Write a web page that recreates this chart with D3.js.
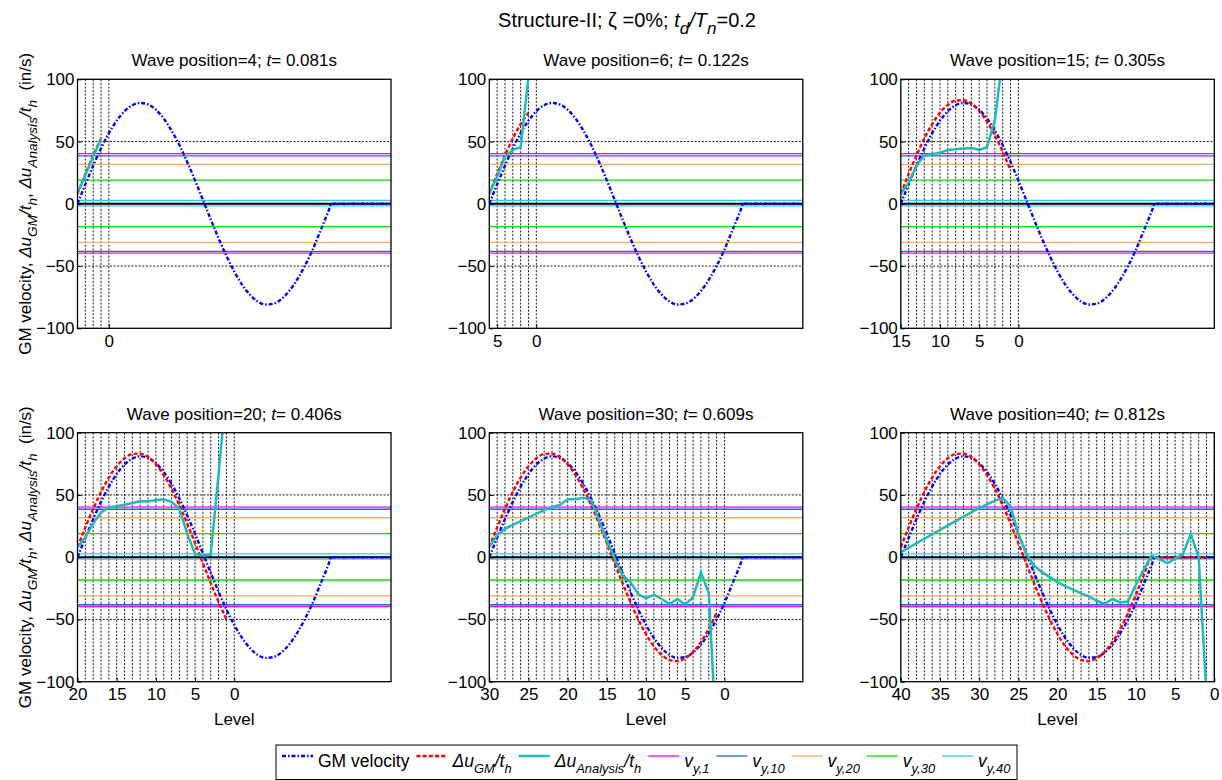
<!DOCTYPE html>
<html>
<head>
<meta charset="utf-8">
<script src="https://cdn.jsdelivr.net/npm/d3@7"></script>
<style>
  body { margin: 0; background: #fff; }
  svg { font-family: "Liberation Sans", Arial, sans-serif; }
</style>
</head>
<body>
<script>
// ---- data ----
const WAVE_POSITIONS = [4, 6, 15, 20, 30, 40];
const WAVE_TIMES = ["0.081", "0.122", "0.305", "0.406", "0.609", "0.812"];

// GM velocity vs. offset (levels behind the wave front)
const GM_OFFSET = [0, 1, 2, 3, 4, 5, 6, 7, 8, 9, 10, 11, 12, 13, 14, 15, 16, 17, 18, 19, 20,
  21, 22, 23, 24, 25, 26, 27, 28, 29, 30, 31, 32, 32.4, 33, 34, 35, 36, 37, 38, 39, 40];
const GM_VELOCITY = [0, 15.6, 30.6, 44.5, 56.7, 66.8, 74.4, 79.2, 81.0, 79.8, 75.6, 68.5, 58.9,
  47.2, 33.6, 18.8, 3.1, -12.5, -27.7, -41.8, -54.4, -64.9, -73.0, -78.5, -80.9, -80.2, -76.6,
  -70.1, -61.1, -49.9, -36.8, -21.6, -6.3, 0, 0, 0, 0, 0, 0, 0, 0, 0];

// du_GM / t_h at offsets 0..40
const GM_DIFF = [8.1, 23.9, 38.9, 52.4, 64.0, 73.1, 79.5, 82.9, 83.2, 80.4, 74.6, 66.0, 54.9,
  41.8, 27.0, 11.3, -4.9, -20.8, -35.9, -49.8, -61.8, -71.7, -78.5, -82.5, -83.5, -81.2, -76.1,
  -68.1, -57.5, -44.7, -30.2, -14.4, 0, 0, 0, 0, 0, 0, 0, 0, 0];

// du_Analysis / t_h, from level = wave position down to level 1
const ANALYSIS_4 = [8.6, 23, 38, 52];
const ANALYSIS_6 = [8, 22, 38, 43.3, 45.5, 102];
const ANALYSIS_15 = [8, 17, 30.5, 38.8, 39.8, 41, 43.3, 43.9, 44.4, 44.9, 43.3, 45.5, 67, 118, 170];
const ANALYSIS_20 = [8, 16, 27, 36, 39.8, 40.9, 42.2, 43.5, 45, 45, 45.7, 46.5, 44.4, 39, 18.8,
  2.7, 1.3, 2, 67, 135];
const ANALYSIS_30 = [8.6, 17.5, 22.8, 26, 29, 31.7, 35, 37.6, 40.3, 42,
  46.5, 46.5, 47.8, 45.7, 29.6, 13.4, -1.3, -14.8, -20, -29.6,
  -33, -30, -33.6, -37.6, -33.6, -38, -32, -12, -29, -150];
const ANALYSIS_40 = [4, 7.6, 11.2, 14.8, 18.4, 22, 25.5, 29, 32.5, 36,
  39.5, 42.5, 45.5, 47.5, 41, 19, 2.7, -6.7, -12, -16,
  -20, -23.4, -26, -29, -31.5, -35, -37.6, -33.6, -36.3, -35.5,
  -22, -10, 1.3, -1.3, -4.8, -1.3, 2.7, 18.8, 0, -110];
const ANALYSIS_SERIES = [ANALYSIS_4, ANALYSIS_6, ANALYSIS_15, ANALYSIS_20, ANALYSIS_30, ANALYSIS_40];

// yield velocities (in/s)
const YIELD_LABELS = ["y,1", "y,10", "y,20", "y,30", "y,40"];
const YIELD_POS = [40.3, 38.5, 31.7, 19.0, 2.7];
const YIELD_NEG = [-39.6, -38.2, -31.0, -18.3, -1.6];
const YIELD_COLORS = ["#ff00ff", "#1f70b4", "#ffaa66", "#00e000", "#3cc4ff"];

const Y_TICKS = [-100, -50, 0, 50, 100];

// ---- layout ----
const width = 1222,
  height = 780;
const plotW = 313.5,
  plotH = 249;
const colX = [77.5, 489.3, 900.8];
const rowY = [79.3, 432.7];
const BLUE = "#0000ff",
  RED = "#ff0000",
  CYAN = "#1fbaba";

const svg = d3
  .select("body")
  .append("svg")
  .attr("width", width)
  .attr("height", height);

// text with italic / subscript pieces: [text, italic, sub]
function richText(sel, parts, size, subRatio = 0.74) {
  let prevSub = false;
  parts.forEach(p => {
    const t = sel.append("tspan").text(p[0]);
    if (p[1]) t.attr("font-style", "italic");
    if (p[2]) {
      t.attr("font-size", size * subRatio);
      if (!prevSub) t.attr("dy", size * 0.36);
    } else if (prevSub) t.attr("dy", -size * 0.36);
    prevSub = !!p[2];
  });
  return sel;
}

richText(
  svg
    .append("text")
    .attr("x", 627)
    .attr("y", 27)
    .attr("text-anchor", "middle")
    .attr("font-size", 20),
  [["Structure-II; \u03B6 =0%; "], ["t", 1], ["d", 1, 1], ["/", 1], ["T", 1], ["n", 1, 1], ["=0.2"]],
  20,
  0.85
);

const yLabelParts = [
  ["GM velocity, "], ["\u0394u", 1], ["GM", 1, 1], ["/t", 1], ["h", 1, 1], [", "],
  ["\u0394u", 1], ["Analysis", 1, 1], ["/t", 1], ["h", 1, 1], ["\u00A0\u00A0(in/s)"]
];

const y = d3.scaleLinear().domain([-100, 100]).range([plotH, 0]);

WAVE_POSITIONS.forEach((pos, i) => {
  const col = i % 3,
    row = Math.floor(i / 3);
  const g = svg
    .append("g")
    .attr("transform", `translate(${colX[col]},${rowY[row]})`);

  const x = d3.scaleLinear().domain([pos, pos - 40]).range([0, plotW]);

  g.append("clipPath")
    .attr("id", "clip" + i)
    .append("rect")
    .attr("width", plotW)
    .attr("height", plotH);

  // vertical dotted grid at every level of the structure
  g.append("g")
    .selectAll("line")
    .data(d3.range(pos - 1, -1, -1))
    .join("line")
    .attr("x1", d => x(d))
    .attr("x2", d => x(d))
    .attr("y1", 0)
    .attr("y2", plotH)
    .attr("stroke", "#000")
    .attr("stroke-width", 0.9)
    .attr("stroke-dasharray", "2,1.6");

  // horizontal dotted grid
  g.append("g")
    .selectAll("line")
    .data([-50, 50])
    .join("line")
    .attr("x1", 0)
    .attr("x2", plotW)
    .attr("y1", d => y(d))
    .attr("y2", d => y(d))
    .attr("stroke", "#000")
    .attr("stroke-width", 0.9)
    .attr("stroke-dasharray", "2,1.6");

  // yield velocity lines
  const yields = g.append("g");
  [YIELD_POS, YIELD_NEG].forEach(arr => {
    yields
      .selectAll(null)
      .data(arr)
      .join("line")
      .attr("x1", 0)
      .attr("x2", plotW)
      .attr("y1", d => y(d))
      .attr("y2", d => y(d))
      .attr("stroke", (d, k) => YIELD_COLORS[k])
      .attr("stroke-width", 1.3);
  });

  g.append("line")
    .attr("x1", 0)
    .attr("x2", plotW)
    .attr("y1", y(0))
    .attr("y2", y(0))
    .attr("stroke", "#000")
    .attr("stroke-width", 2);

  const curves = g.append("g").attr("clip-path", `url(#clip${i})`);

  const gmLine = d3
    .line()
    .x(d => x(d[0]))
    .y(d => y(d[1]))
    .curve(d3.curveMonotoneX);

  curves
    .append("path")
    .datum(GM_OFFSET.map((o, k) => [pos - o, GM_VELOCITY[k]]))
    .attr("d", gmLine)
    .attr("fill", "none")
    .attr("stroke", BLUE)
    .attr("stroke-width", 2.4)
    .attr("stroke-dasharray", "4,2,1.5,2");

  curves
    .append("path")
    .datum(GM_DIFF.slice(0, pos).map((v, k) => [pos - k, v]))
    .attr("d", gmLine)
    .attr("fill", "none")
    .attr("stroke", RED)
    .attr("stroke-width", 2.4)
    .attr("stroke-dasharray", "4,2.2");

  curves
    .append("path")
    .datum(ANALYSIS_SERIES[i].map((v, k) => [pos - k, v]))
    .attr("d", d3.line().x(d => x(d[0])).y(d => y(d[1])))
    .attr("fill", "none")
    .attr("stroke", CYAN)
    .attr("stroke-width", 2.5);

  // box
  g.append("rect")
    .attr("width", plotW)
    .attr("height", plotH)
    .attr("fill", "none")
    .attr("stroke", "#000")
    .attr("stroke-width", 1.3);

  // axes
  const xAxis = d3
    .axisBottom(x)
    .tickValues(d3.range(0, pos + 1, 5))
    .tickSizeInner(-4)
    .tickSizeOuter(0)
    .tickPadding(6.5);
  const xg = g
    .append("g")
    .attr("transform", `translate(0,${plotH})`)
    .call(xAxis);

  const yAxis = d3
    .axisLeft(y)
    .tickValues(Y_TICKS)
    .tickSizeInner(-4)
    .tickSizeOuter(0)
    .tickPadding(3);
  const yg = g.append("g").call(yAxis);

  [xg, yg].forEach(a => {
    a.select(".domain").remove();
    a.selectAll("text")
      .attr("font-size", 17)
      .attr("font-family", "Liberation Sans, Arial, sans-serif")
      .attr("fill", "#000");
  });

  // subplot title
  richText(
    g.append("text")
      .attr("x", plotW / 2)
      .attr("y", -13)
      .attr("text-anchor", "middle")
      .attr("font-size", 17),
    [["Wave position=" + pos + "; "], ["t", 1], ["= " + WAVE_TIMES[i] + "s"]],
    17
  );

  if (row === 1) {
    g.append("text")
      .attr("x", plotW / 2)
      .attr("y", 725 - rowY[1])
      .attr("text-anchor", "middle")
      .attr("font-size", 17)
      .text("Level");
  }

  if (col === 0) {
    richText(
      g.append("text")
        .attr("transform", `translate(${31 - colX[0]},${plotH / 2}) rotate(-90)`)
        .attr("text-anchor", "middle")
        .attr("font-size", 17),
      yLabelParts,
      17,
      0.8
    );
  }
});

// ---- legend ----
const legend = svg.append("g").attr("transform", "translate(276,745)");
legend
  .append("rect")
  .attr("width", 741)
  .attr("height", 34.5)
  .attr("fill", "#fff")
  .attr("stroke", "#000")
  .attr("stroke-width", 1);

const legendItems = [
  { parts: [["GM velocity"]], color: BLUE, dash: "4,2,1.5,2", w: 2.4 },
  { parts: [["\u0394u", 1], ["GM", 1, 1], ["/t", 1], ["h", 1, 1]], color: RED, dash: "4,2.2", w: 2.4 },
  { parts: [["\u0394u", 1], ["Analysis", 1, 1], ["/t", 1], ["h", 1, 1]], color: CYAN, dash: null, w: 2.5 }
].concat(
  YIELD_LABELS.map((lab, k) => ({
    parts: [["v", 1], [lab, 1, 1]],
    color: YIELD_COLORS[k],
    dash: null,
    w: 1.3
  }))
);

let lx = 6;
legendItems.forEach(item => {
  legend
    .append("line")
    .attr("x1", lx)
    .attr("x2", lx + 31)
    .attr("y1", 11)
    .attr("y2", 11)
    .attr("stroke", item.color)
    .attr("stroke-width", item.w)
    .attr("stroke-dasharray", item.dash);
  const t = richText(
    legend
      .append("text")
      .attr("x", lx + 36)
      .attr("y", 21.5)
      .attr("font-size", 17.5),
    item.parts,
    17.5
  );
  lx += 36 + t.node().getComputedTextLength() + 7;
});
</script>
</body>
</html>
